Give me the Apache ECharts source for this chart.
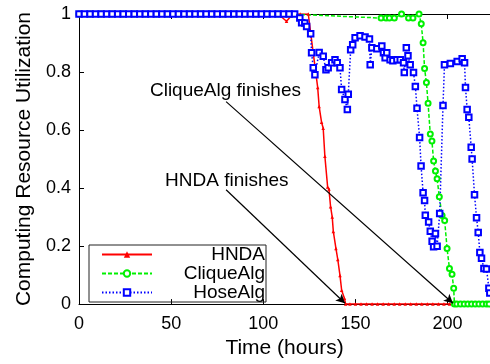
<!DOCTYPE html>
<html>
<head>
<meta charset="utf-8">
<script src="https://cdn.jsdelivr.net/npm/echarts@6/dist/echarts.min.js"></script>
<style>
  html, body { margin: 0; padding: 0; background: #fff; }
  #chart { width: 490px; height: 364px; }
</style>
</head>
<body>
<div id="chart"></div>
<script>
// [time (hours), utilization]
var hnda = [
  [0, 1], [6, 1], [12, 1], [18, 1], [24, 1], [30, 1], [36, 1], [42, 1], [48, 1], [54, 1],
  [60, 1], [66, 1], [72, 1], [78, 1], [84, 1], [90, 1], [96, 1], [102, 1], [108, 1],
  [112.6, 0.975], [116, 1], [120, 1], [124.4, 1], [127, 0.87],
  [129.5, 0.747], [130.3, 0.681], [131.6, 0.627], [132.5, 0.606], [133.4, 0.51],
  [134.9, 0.404], [135.6, 0.397], [136.5, 0.336], [137.4, 0.30], [138, 0.25],
  [139.4, 0.192], [140.4, 0.154], [141.6, 0.099], [142.5, 0.048], [144, 0.02], [144.7, 0],
  [147, 0], [150, 0], [153, 0], [156, 0], [159, 0], [162, 0], [165, 0], [168, 0], [171, 0],
  [174, 0], [177, 0], [180, 0], [183, 0], [186, 0], [189, 0], [192, 0], [195, 0], [198, 0],
  [201, 0], [203, 0]
];

var cliqueAlg = [
  [0, 1], [6, 1], [12, 1], [18, 1], [24, 1], [30, 1], [36, 1], [42, 1], [48, 1], [54, 1],
  [60, 1], [66, 1], [72, 1], [78, 1], [84, 1], [90, 1], [96, 1], [102, 1], [108, 1],
  [114, 1],
  [163.9, 0.986], [166.6, 0.986], [168.4, 0.986], [171.1, 0.986], [175, 1],
  [178.8, 0.986], [181.2, 0.986], [184.5, 1],
  [185.7, 0.966], [186.7, 0.901], [187.5, 0.812], [188.5, 0.764], [189.4, 0.692],
  [190.6, 0.586], [191.5, 0.562], [192.4, 0.493], [193.4, 0.459], [194.3, 0.432],
  [195.5, 0.37], [197, 0.305], [198.4, 0.288], [199.7, 0.192], [201, 0.123],
  [202.4, 0.103], [203.3, 0.055], [203.7, 0],
  [205, 0], [207, 0], [209, 0], [211, 0], [213, 0], [215, 0], [217, 0], [219, 0], [221, 0], [222.5, 0]
];

var hoseAlg = [
  [0, 1], [3, 1], [6, 1], [9, 1], [12, 1], [15, 1], [18, 1], [21, 1], [24, 1], [27, 1],
  [30, 1], [33, 1], [36, 1], [39, 1], [42, 1], [45, 1], [48, 1], [51, 1], [54, 1], [57, 1],
  [60, 1], [63, 1], [66, 1], [69, 1], [72, 1], [75, 1], [78, 1], [81, 1], [84, 1], [87, 1],
  [90, 1], [93, 1], [96, 1], [99, 1], [102, 1], [105, 1], [108, 1], [111, 1], [114, 1], [117, 1],
  [119.8, 0.986], [120.8, 0.97], [122.5, 0.969], [123.5, 0.957], [125.7, 0.932],
  [126.2, 0.866], [127.1, 0.815], [128, 0.791], [130.3, 0.867], [132.5, 0.854],
  [134, 0.808], [135.2, 0.815], [137.1, 0.832], [138.9, 0.842], [140.1, 0.832],
  [141.6, 0.815], [142.5, 0.74], [144.3, 0.705], [145.6, 0.671], [146.1, 0.723],
  [147.4, 0.877], [148.5, 0.894], [149.8, 0.918], [152.5, 0.925], [155.2, 0.921],
  [157.6, 0.914], [158, 0.825], [158.9, 0.884], [161.6, 0.88], [164.3, 0.89],
  [165.2, 0.866], [166.1, 0.849], [167, 0.866], [168.8, 0.842], [170.3, 0.839],
  [172.5, 0.842], [174.3, 0.842], [176.1, 0.832], [176.5, 0.798], [177.6, 0.884],
  [178.5, 0.856], [179.7, 0.825], [181.5, 0.798], [182.5, 0.75], [183.4, 0.675],
  [184.8, 0.574], [185.6, 0.476], [186.7, 0.384], [187.5, 0.357], [187.9, 0.306],
  [189.7, 0.283], [190.6, 0.251], [191.6, 0.217], [192.4, 0.198], [193.4, 0.243],
  [194.3, 0.199], [195.7, 0.312], [197.5, 0.685], [198.3, 0.825], [201.5, 0.829],
  [205.2, 0.836], [207.9, 0.846], [209.2, 0.832], [209.7, 0.747], [210.6, 0.671],
  [211.5, 0.644], [212.8, 0.541], [213.3, 0.5], [214.6, 0.377], [215.7, 0.298],
  [216.6, 0.247], [217.5, 0.178], [218.4, 0.158], [219.7, 0.123], [221.1, 0.121],
  [222.4, 0.055], [222.9, 0.038]
];

// annotation arrows: [start, end] in data coords
var hndaArrow = [[79.8, 0.394], [144.3, 0.003]];
var cliqueArrow = [[79.8, 0.698], [202.9, 0.003]];
var hndaNote = { text: 'HNDA finishes', at: [46.7, 0.426] };
var cliqueNote = { text: 'CliqueAlg finishes', at: [38.5, 0.737] };

var xTicks = { min: 0, max: 223, interval: 50 };
var yTicks = { min: 0, max: 1, interval: 0.2 };

var font = '"Liberation Sans", Arial, Helvetica, sans-serif';
var chart = echarts.init(document.getElementById('chart'));

var option = {
  animation: false,
  backgroundColor: '#fff',
  grid: { left: 79, right: 0, top: 14, bottom: 58, containLabel: false },
  legend: {
    orient: 'vertical',
    left: 89,
    top: 245,
    padding: [0, 1, 0, 12],
    itemGap: 0,
    itemWidth: 50,
    itemHeight: 8,
    borderColor: '#222',
    borderWidth: 1,
    data: ['HNDA', 'CliqueAlg', 'HoseAlg'],
    formatter: function (name) { return '{r|' + name + '}'; },
    textStyle: {
      color: '#000',
      fontFamily: font,
      rich: { r: { width: 108, align: 'right', fontSize: 19, lineHeight: 19, fontFamily: font, color: '#000' } }
    }
  },
  xAxis: [{
    type: 'value',
    min: xTicks.min,
    max: xTicks.max,
    interval: xTicks.interval,
    name: 'Time (hours)',
    nameLocation: 'middle',
    nameGap: 32,
    nameTextStyle: { fontSize: 21, color: '#000', fontFamily: font },
    axisLine: { lineStyle: { color: '#000', width: 1 } },
    axisTick: { inside: true, length: 5, lineStyle: { color: '#000' } },
    axisLabel: { fontSize: 18, color: '#000', fontFamily: font, margin: 11, showMaxLabel: false },
    splitLine: { show: false }
  }, {
    type: 'value',
    position: 'top',
    min: xTicks.min,
    max: xTicks.max,
    interval: xTicks.interval,
    axisLine: { lineStyle: { color: '#000', width: 1 } },
    axisTick: { inside: true, length: 5, lineStyle: { color: '#000' } },
    axisLabel: { show: false },
    splitLine: { show: false }
  }],
  yAxis: {
    type: 'value',
    min: yTicks.min,
    max: yTicks.max,
    interval: yTicks.interval,
    name: 'Computing Resource Utilization',
    nameLocation: 'middle',
    nameGap: 42,
    nameTextStyle: { fontSize: 21, color: '#000', fontFamily: font },
    axisLine: { show: true, lineStyle: { color: '#000', width: 1 } },
    axisTick: { show: true, inside: true, length: 5, lineStyle: { color: '#000' } },
    axisLabel: { fontSize: 18, color: '#000', fontFamily: font, margin: 8 },
    splitLine: { show: false }
  },
  series: [{
    name: 'HNDA',
    type: 'line',
    data: hnda,
    symbol: 'triangle',
    symbolSize: 3.5,
    showAllSymbol: true,
    color: '#ff0000',
    lineStyle: { color: '#ff0000', width: 1.5 },
    itemStyle: { color: '#ff0000' },
    markLine: {
      silent: true,
      symbol: ['none', 'arrow'],
      symbolSize: [7, 9],
      label: { show: false },
      lineStyle: { color: '#000', type: 'solid', width: 1.2 },
      data: [
        [{ coord: hndaArrow[0] }, { coord: hndaArrow[1] }],
        [{ coord: cliqueArrow[0] }, { coord: cliqueArrow[1] }]
      ]
    },
    markPoint: {
      silent: true,
      symbol: 'circle',
      symbolSize: 0,
      label: {
        show: true,
        position: 'right',
        distance: 0,
        color: '#000',
        fontSize: 19,
        fontFamily: font,
        formatter: function (p) { return p.name; }
      },
      data: [
        { name: hndaNote.text, coord: hndaNote.at },
        { name: cliqueNote.text, coord: cliqueNote.at }
      ]
    }
  }, {
    name: 'CliqueAlg',
    type: 'line',
    data: cliqueAlg,
    symbol: 'emptyCircle',
    symbolSize: 5,
    showAllSymbol: true,
    color: '#00f000',
    lineStyle: { color: '#00f000', width: 1.5, type: [4, 2] },
    itemStyle: { color: '#00f000', borderWidth: 1.5 }
  }, {
    name: 'HoseAlg',
    type: 'line',
    data: hoseAlg,
    symbol: 'emptyRect',
    symbolSize: 5.5,
    showAllSymbol: true,
    color: '#0000ff',
    lineStyle: { color: '#0000ff', width: 1.5, type: [1.5, 2] },
    itemStyle: { color: '#0000ff', borderWidth: 1.8 }
  }]
};

chart.setOption(option);
</script>
</body>
</html>
